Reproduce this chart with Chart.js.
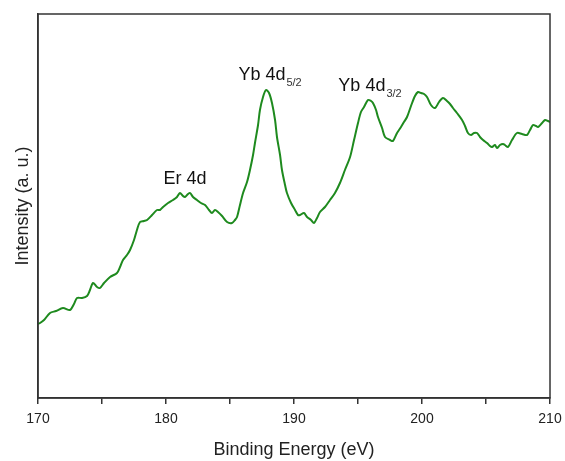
<!DOCTYPE html>
<html><head><meta charset="utf-8">
<script src="https://cdn.jsdelivr.net/npm/chart.js@4/dist/chart.umd.min.js"></script>
<style>html,body{margin:0;padding:0;background:#fff}#wrap{width:565px;height:461px}</style>
</head><body><div id="wrap"><canvas id="c" width="565" height="461"></canvas></div>
<script>
const energy = [170.00,170.16,170.47,170.94,171.41,171.95,172.50,172.81,173.05,173.44,173.83,174.06,174.30,174.61,174.84,175.16,175.63,176.17,176.41,176.64,176.95,177.19,177.50,177.73,177.97,178.28,178.52,178.91,179.30,179.53,179.77,180.16,180.55,180.86,181.09,181.33,181.48,181.72,181.88,182.11,182.42,182.73,183.05,183.36,183.59,183.83,184.06,184.38,184.77,185.16,185.39,185.55,185.78,186.02,186.33,186.56,186.80,186.95,187.19,187.34,187.58,187.81,188.05,188.28,188.52,188.67,188.91,189.06,189.30,189.45,189.77,190.08,190.31,190.47,190.78,191.02,191.33,191.56,191.80,192.03,192.42,192.81,193.20,193.59,193.98,194.38,194.69,195.00,195.23,195.47,195.78,196.02,196.17,196.41,196.56,196.88,197.11,197.50,197.73,198.05,198.36,198.59,198.83,199.14,199.45,199.69,199.92,200.16,200.39,200.70,201.02,201.33,201.64,201.95,202.19,202.42,202.73,203.13,203.36,203.59,203.83,204.06,204.30,204.53,204.77,205.08,205.31,205.47,205.70,205.86,206.09,206.33,206.48,206.72,207.03,207.42,207.81,208.20,208.44,208.67,208.91,209.06,209.38,209.61,209.84,210.00];
const intensity = [74,75,78,85,87,90,88,94,100,100,102,108,115,111,110,115,121,125,131,138,143,148,158,168,176,177,178,183,188,188,191,195,198,201,205,202,201,204,205,201,198,195,193,188,185,188,186,182,176,175,178,181,193,205,216,228,243,255,273,288,301,308,305,295,278,261,243,228,213,205,195,188,183,183,185,181,178,175,180,186,191,198,205,215,228,241,258,275,286,291,298,297,295,288,281,270,261,258,257,265,271,276,281,292,302,306,305,304,301,293,290,296,300,297,294,290,285,278,272,265,263,265,265,261,258,255,252,251,253,250,253,254,253,251,258,265,264,263,268,273,272,271,275,278,277,276];
const xTicks = [170,180,190,200,210];
const peakLabels = [
  {x:181.48, y:214, main:"Er 4d", sub:""},
  {x:188.13, y:318, main:"Yb 4d", sub:"5/2"},
  {x:195.94, y:307, main:"Yb 4d", sub:"3/2"}
];
const FONT = '"Liberation Sans", Arial, sans-serif';

const boxPlugin = {
  id:'box',
  afterDraw(chart){
    const {ctx, chartArea:a, scales} = chart;
    ctx.save();
    ctx.strokeStyle='#333'; ctx.lineWidth=1.5;
    ctx.strokeRect(a.left, a.top, a.right-a.left, a.bottom-a.top);
    ctx.textBaseline='alphabetic';
    ctx.textAlign='left';
    peakLabels.forEach(p=>{
      const px = scales.x.getPixelForValue(p.x);
      const py = scales.y.getPixelForValue(p.y);
      ctx.font='18px '+FONT;
      const w1 = ctx.measureText(p.main).width;
      ctx.font='11px '+FONT;
      const w2 = p.sub ? ctx.measureText(p.sub).width+1 : 0;
      const x0 = px - (w1+w2)/2;
      ctx.font='18px '+FONT;
      ctx.fillStyle='#111';
      ctx.fillText(p.main, x0, py);
      if(p.sub){
        ctx.font='11px '+FONT;
        ctx.fillStyle='#333';
        ctx.fillText(p.sub, x0+w1+1, py+6);
      }
    });
    ctx.restore();
  }
};

new Chart(document.getElementById('c'), {
  type:'line',
  data:{ datasets:[{
    data: energy.map((e,i)=>({x:e, y:intensity[i]})),
    borderColor:'#1e8a1e', borderWidth:2, pointRadius:0, tension:0.3, fill:false
  }]},
  options:{
    responsive:false, animation:false,
    layout:{padding:{left:0, right:15, top:14, bottom:0}},
    plugins:{legend:{display:false}, tooltip:{enabled:false}},
    scales:{
      x:{
        type:'linear', min:170, max:210,
        grid:{display:true, drawOnChartArea:false, drawTicks:true, tickLength:6, color:'#333', lineWidth:1.5},
        border:{display:true, color:'#333', width:1.5},
        ticks:{stepSize:5, autoSkip:false, maxRotation:0, padding:7, color:'#222',
          font:{family:FONT, size:14},
          callback:(v)=> xTicks.includes(v) ? String(v) : ''},
        title:{display:true, text:'Binding Energy (eV)', color:'#222',
          font:{family:FONT, size:18}, padding:{top:8,bottom:0}},
        afterFit(s){ s.height = 63; s.paddingLeft = 0; s.paddingRight = 0; }
      },
      y:{
        min:0, max:384,
        grid:{display:false},
        border:{display:true, color:'#333', width:1.5},
        ticks:{display:false},
        title:{display:true, text:'Intensity (a. u.)', color:'#222',
          font:{family:FONT, size:18}, padding:{top:12,bottom:0}},
        afterFit(s){ s.width = 38; s.paddingTop = 0; s.paddingBottom = 0; }
      }
    }
  },
  plugins:[boxPlugin]
});
</script></body></html>
